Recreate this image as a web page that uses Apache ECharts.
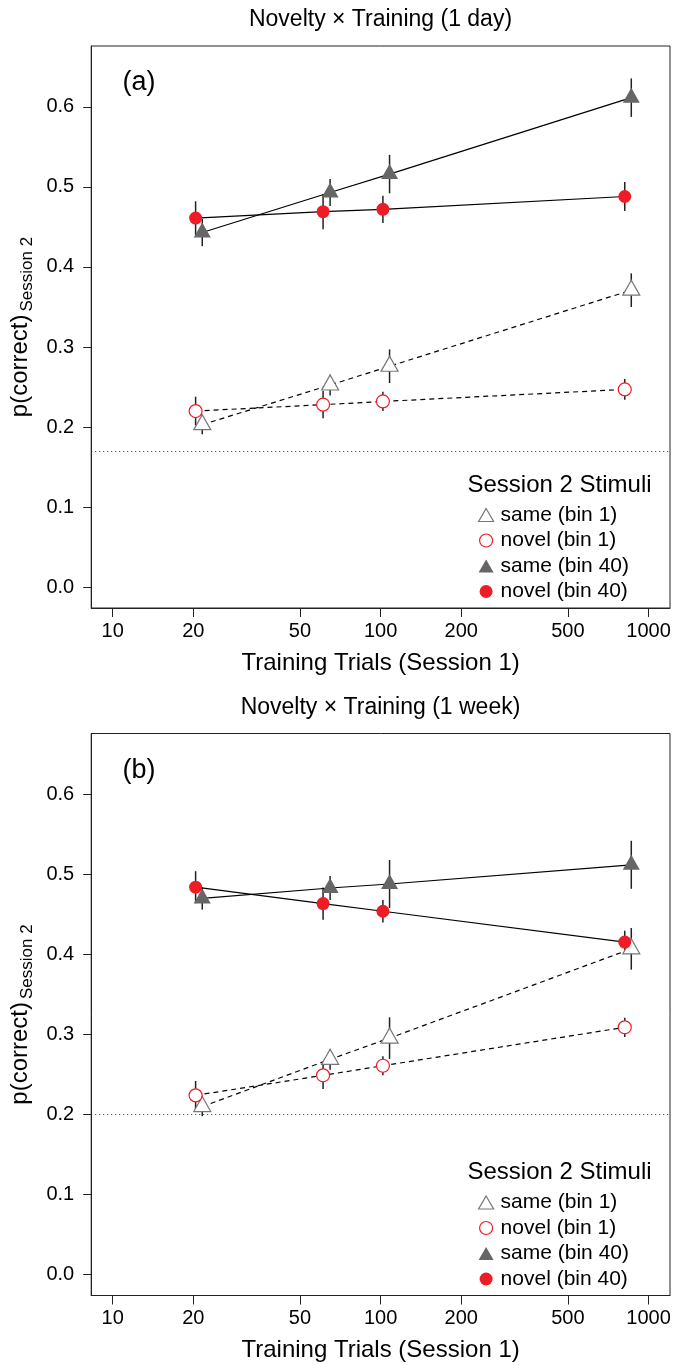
<!DOCTYPE html>
<html>
<head>
<meta charset="utf-8">
<script src="https://cdn.jsdelivr.net/npm/echarts@6/dist/echarts.min.js"></script>
<style>
html,body{margin:0;padding:0;background:#fff;}
#chart{width:688px;height:1365px;}
</style>
</head>
<body>
<div id="chart"></div>
<script>
// ---- data ----
const xTickValues = [10, 20, 50, 100, 200, 500, 1000];
const yTickValues = [0, 0.1, 0.2, 0.3, 0.4, 0.5, 0.6];
const trialsNovel = [20.4, 61, 102, 815];   // circles
const trialsSame = [21.6, 64.8, 108, 862];  // triangles

const seriesNames = ['same (bin 1)', 'novel (bin 1)', 'same (bin 40)', 'novel (bin 40)'];
const panelTitles = ['Novelty × Training (1 day)', 'Novelty × Training (1 week)'];
const panelLabels = ['(a)', '(b)'];

// panel (a): 1 day
const aSameBin1 = [0.203, 0.2525, 0.276, 0.371];
const aSameBin1Err = [0.012, 0.013, 0.021, 0.021];
const aNovelBin1 = [0.220, 0.228, 0.232, 0.247];
const aNovelBin1Err = [0.018, 0.017, 0.012, 0.013];
const aSameBin40 = [0.443, 0.493, 0.516, 0.6115];
const aSameBin40Err = [0.017, 0.017, 0.024, 0.024];
const aNovelBin40 = [0.461, 0.469, 0.472, 0.488];
const aNovelBin40Err = [0.021, 0.022, 0.017, 0.018];
const aChance = 0.173;

// panel (b): 1 week
const bSameBin1 = [0.210, 0.269, 0.2955, 0.407];
const bSameBin1Err = [0.012, 0.013, 0.026, 0.026];
const bNovelBin1 = [0.224, 0.249, 0.261, 0.309];
const bNovelBin1Err = [0.018, 0.017, 0.012, 0.012];
const bSameBin40 = [0.470, 0.483, 0.488, 0.512];
const bSameBin40Err = [0.014, 0.015, 0.030, 0.030];
const bNovelBin40 = [0.484, 0.4635, 0.454, 0.4155];
const bNovelBin40Err = [0.020, 0.020, 0.014, 0.014];
const bChance = 0.205;

// ---- styling / layout ----
const FONT = '"Liberation Sans", Arial, Helvetica, sans-serif';
const RED = '#EE1C25';
const GRAY = '#666666';
const OPEN_GRAY = '#777777';
const GRID_LEFT = 91, GRID_WIDTH = 579, GRID_HEIGHT = 562;
const GRID_TOPS = [46, 733.5];
const TRI = [17, 15];

const panels = [
  {same1: aSameBin1, same1e: aSameBin1Err, nov1: aNovelBin1, nov1e: aNovelBin1Err,
   same40: aSameBin40, same40e: aSameBin40Err, nov40: aNovelBin40, nov40e: aNovelBin40Err, chance: aChance},
  {same1: bSameBin1, same1e: bSameBin1Err, nov1: bNovelBin1, nov1e: bNovelBin1Err,
   same40: bSameBin40, same40e: bSameBin40Err, nov40: bNovelBin40, nov40e: bNovelBin40Err, chance: bChance}
];

const lx = v => Math.log10(v);
const pts = (xs, ys) => xs.map((x, i) => [lx(x), ys[i]]);
const bars = (xs, ys, es) => xs.map((x, i) => [lx(x), ys[i] - es[i], ys[i] + es[i]]);

const grids = [], xAxes = [], yAxes = [], series = [], legends = [], graphics = [];

panels.forEach((p, k) => {
  const top = GRID_TOPS[k];
  grids.push({left: GRID_LEFT, top: top, width: GRID_WIDTH, height: GRID_HEIGHT,
    show: true, borderColor: '#222', borderWidth: 1, backgroundColor: 'transparent'});
  xAxes.push({
    type: 'value', gridIndex: k, min: 0.92, max: 3.08,
    name: 'Training Trials (Session 1)', nameLocation: 'middle', nameGap: 55,
    nameTextStyle: {fontSize: 24, fontFamily: FONT, color: '#000', verticalAlign: 'middle'},
    axisLine: {show: true, onZero: false, lineStyle: {color: '#222', width: 1}},
    axisTick: {show: true, inside: false, length: 9, lineStyle: {color: '#222'}, customValues: xTickValues.map(lx)},
    axisLabel: {show: true, margin: 13, fontSize: 20, fontFamily: FONT, color: '#000',
      customValues: xTickValues.map(lx), formatter: v => String(Math.round(Math.pow(10, v)))},
    splitLine: {show: false}
  });
  yAxes.push({
    type: 'value', gridIndex: k, min: -0.026, max: 0.676,
    name: '{a|p(correct)}{b|Session 2}', nameLocation: 'middle', nameRotate: 90, nameGap: 53,
    nameTextStyle: {fontFamily: FONT, color: '#000', verticalAlign: 'middle',
      rich: {
        a: {fontSize: 24, fontFamily: FONT, color: '#000', padding: [0, 0, 6, 0]},
        b: {fontSize: 17, fontFamily: FONT, color: '#000', padding: [8, 0, 0, 3]}
      }},
    axisLine: {show: true, onZero: false, lineStyle: {color: '#222', width: 1}},
    axisTick: {show: true, inside: false, length: 8, lineStyle: {color: '#222'}, customValues: yTickValues},
    axisLabel: {show: true, margin: 17, fontSize: 20, fontFamily: FONT, color: '#000',
      customValues: yTickValues, formatter: v => v.toFixed(1)},
    splitLine: {show: false}
  });

  // error bars
  const errData = [].concat(
    bars(trialsSame, p.same1, p.same1e),
    bars(trialsNovel, p.nov1, p.nov1e),
    bars(trialsSame, p.same40, p.same40e),
    bars(trialsNovel, p.nov40, p.nov40e)
  );
  series.push({
    type: 'custom', xAxisIndex: k, yAxisIndex: k, z: 1, silent: true,
    data: errData,
    renderItem: (params, api) => {
      const a = api.coord([api.value(0), api.value(1)]);
      const b = api.coord([api.value(0), api.value(2)]);
      return {type: 'line', shape: {x1: a[0], y1: a[1], x2: b[0], y2: b[1]},
        style: {stroke: '#222', lineWidth: 1.5}};
    },
    markLine: {silent: true, symbol: 'none', label: {show: false},
      lineStyle: {type: [1, 3], color: '#333', width: 1},
      data: [{yAxis: p.chance}]}
  });

  const common = {type: 'line', xAxisIndex: k, yAxisIndex: k, z: 2, silent: true, showSymbol: true,
    emphasis: {disabled: true}};
  series.push(Object.assign({}, common, {
    name: seriesNames[0], data: pts(trialsSame, p.same1),
    symbol: 'triangle', symbolSize: TRI, symbolOffset: [0, -TRI[1] / 6],
    itemStyle: {color: '#fff', borderColor: OPEN_GRAY, borderWidth: 1.2},
    lineStyle: {color: '#000', width: 1.2, type: [5, 4]}
  }));
  series.push(Object.assign({}, common, {
    name: seriesNames[1], data: pts(trialsNovel, p.nov1),
    symbol: 'circle', symbolSize: 13,
    itemStyle: {color: '#fff', borderColor: RED, borderWidth: 1.2},
    lineStyle: {color: '#000', width: 1.2, type: [5, 4]}
  }));
  series.push(Object.assign({}, common, {
    name: seriesNames[2], data: pts(trialsSame, p.same40),
    symbol: 'triangle', symbolSize: TRI, symbolOffset: [0, -TRI[1] / 6],
    itemStyle: {color: GRAY, borderColor: GRAY, borderWidth: 0},
    lineStyle: {color: '#000', width: 1.2, type: 'solid'}
  }));
  series.push(Object.assign({}, common, {
    name: seriesNames[3], data: pts(trialsNovel, p.nov40),
    symbol: 'circle', symbolSize: 13,
    itemStyle: {color: RED, borderColor: RED, borderWidth: 0},
    lineStyle: {color: '#000', width: 1.2, type: 'solid'}
  }));

  legends.push({
    orient: 'vertical', left: 473, top: top + 453.5, selectedMode: false,
    itemWidth: 15, itemHeight: 13, itemGap: 4.5,
    textStyle: {fontSize: 21, fontFamily: FONT, color: '#000', padding: [0, 0, 0, 2]},
    data: [
      {name: seriesNames[0], icon: 'triangle', itemStyle: {color: '#fff', borderColor: OPEN_GRAY, borderWidth: 1.2}},
      {name: seriesNames[1], icon: 'circle', itemStyle: {color: '#fff', borderColor: RED, borderWidth: 1.2}},
      {name: seriesNames[2], icon: 'triangle', itemStyle: {color: GRAY, borderWidth: 0}},
      {name: seriesNames[3], icon: 'circle', itemStyle: {color: RED, borderWidth: 0}}
    ]
  });

  graphics.push({type: 'text', x: GRID_LEFT + GRID_WIDTH / 2, y: top - 26, silent: true,
    style: {text: panelTitles[k], fontSize: 23, fontFamily: FONT, fill: '#000', align: 'center', verticalAlign: 'middle'}});
  graphics.push({type: 'text', x: 139, y: top + 37, silent: true,
    style: {text: panelLabels[k], fontSize: 27, fontFamily: FONT, fill: '#000', align: 'center', verticalAlign: 'middle'}});
  graphics.push({type: 'text', x: 559.5, y: top + 439, silent: true,
    style: {text: 'Session 2 Stimuli', fontSize: 24, fontFamily: FONT, fill: '#000', align: 'center', verticalAlign: 'middle'}});
});

const chart = echarts.init(document.getElementById('chart'), null, {renderer: 'canvas'});
chart.setOption({
  animation: false,
  backgroundColor: '#fff',
  grid: grids, xAxis: xAxes, yAxis: yAxes, series: series, legend: legends, graphic: graphics
});
</script>
</body>
</html>
